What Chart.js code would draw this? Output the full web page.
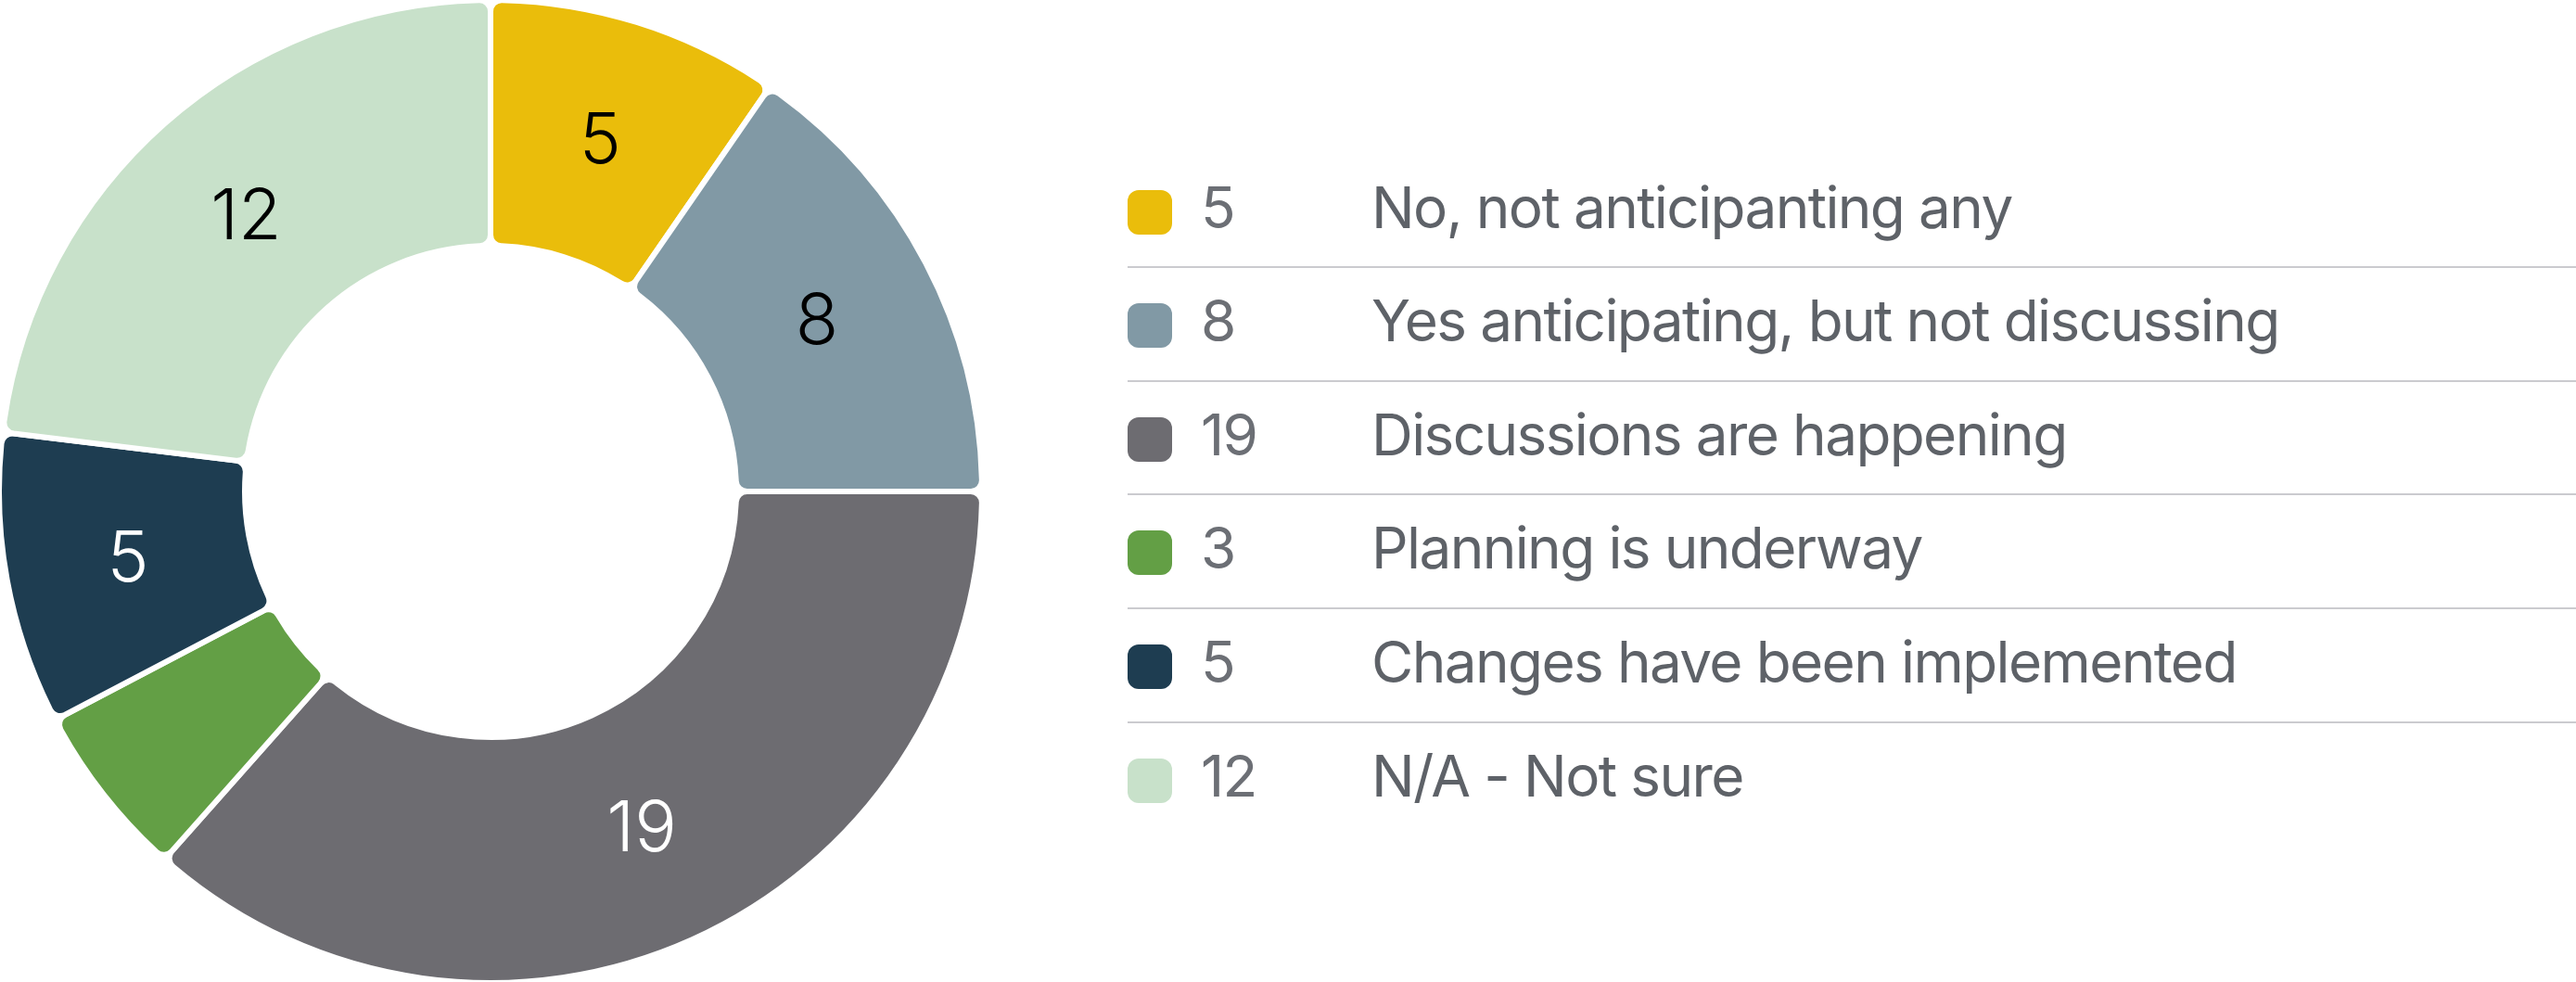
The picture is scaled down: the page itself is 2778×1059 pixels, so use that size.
<!DOCTYPE html>
<html><head><meta charset="utf-8">
<script src="https://cdn.jsdelivr.net/npm/chart.js@4/dist/chart.umd.min.js"></script>
<style>
html,body{margin:0;padding:0;background:#fff;width:2778px;height:1059px;overflow:hidden;}
#wrap{position:absolute;left:-4px;top:-3px;width:1066px;height:1066px;}
#legend{position:absolute;left:0;top:0;width:2778px;height:1059px;font-family:Inter, "Noto Sans", sans-serif;}
.row{position:absolute;left:1216px;width:1562px;height:120px;}
.box{position:absolute;left:0;top:36px;width:48px;height:48px;border-radius:12px;}
.num,.lab{position:absolute;top:0;height:120px;display:flex;align-items:center;font-size:62px;line-height:1;color:#5e6268;margin-top:-5px;white-space:nowrap;letter-spacing:-1.6px;}
.num{left:79px;color:#6c6f75;}
.lab{left:263px;}
.div{position:absolute;left:1216px;width:1562px;height:2px;background:#cbcbcf;}
</style>
</head><body>
<div id="wrap"><canvas id="c"></canvas></div>
<div id="legend"></div>
<script>
const categories = ["No, not anticipanting any","Yes anticipating, but not discussing","Discussions are happening","Planning is underway","Changes have been implemented","N/A - Not sure"];
const values = [5, 8, 19, 3, 5, 12];
const sliceColors = ["#EABD0B","#8199A5","#6D6C71","#639F45","#1E3D51","#C8E1CA"];
const labelColors = ["#000000","#000000","#ffffff","#ffffff","#ffffff","#000000"];
const labelMin = 4;

const valueLabels = {
  id:'valueLabels',
  afterDatasetsDraw(chart){
    const ctx = chart.ctx;
    const meta = chart.getDatasetMeta(0);
    ctx.save();
    ctx.font = '300 76px Inter';
    ctx.textAlign = 'center';
    ctx.textBaseline = 'middle';
    meta.data.forEach((arc,i)=>{
      const v = chart.data.datasets[0].data[i];
      if (v < labelMin) return;
      const p = arc.tooltipPosition();
      ctx.fillStyle = labelColors[i];
      ctx.fillText(String(v), p.x, p.y + 3);
    });
    ctx.restore();
  }
};

const chart = new Chart(document.getElementById('c'), {
  type:'doughnut',
  data:{labels:categories, datasets:[{data:values, backgroundColor:sliceColors, borderColor:'#ffffff', borderWidth:6, borderRadius:12, hoverOffset:0}]},
  options:{
    responsive:true, maintainAspectRatio:false, animation:false,
    cutout:'50%',
    layout:{padding:0},
    plugins:{legend:{display:false}, tooltip:{enabled:false}}
  },
  plugins:[valueLabels]
});

// HTML legend built from chart data
const legend = document.getElementById('legend');
const rowStep = 122.6, firstCenter = 228.5;
chart.data.labels.forEach((lab,i)=>{
  const c = firstCenter + rowStep*i;
  if (i>0){
    const d = document.createElement('div');
    d.className='div'; d.style.top = (c - 64) + 'px';
    legend.appendChild(d);
  }
  const r = document.createElement('div');
  r.className='row'; r.style.top = (c - 60) + 'px';
  const b = document.createElement('div'); b.className='box'; b.style.background = chart.data.datasets[0].backgroundColor[i];
  const n = document.createElement('div'); n.className='num'; n.textContent = chart.data.datasets[0].data[i];
  const t = document.createElement('div'); t.className='lab'; t.textContent = lab;
  r.appendChild(b); r.appendChild(n); r.appendChild(t);
  legend.appendChild(r);
});
</script>
</body></html>
